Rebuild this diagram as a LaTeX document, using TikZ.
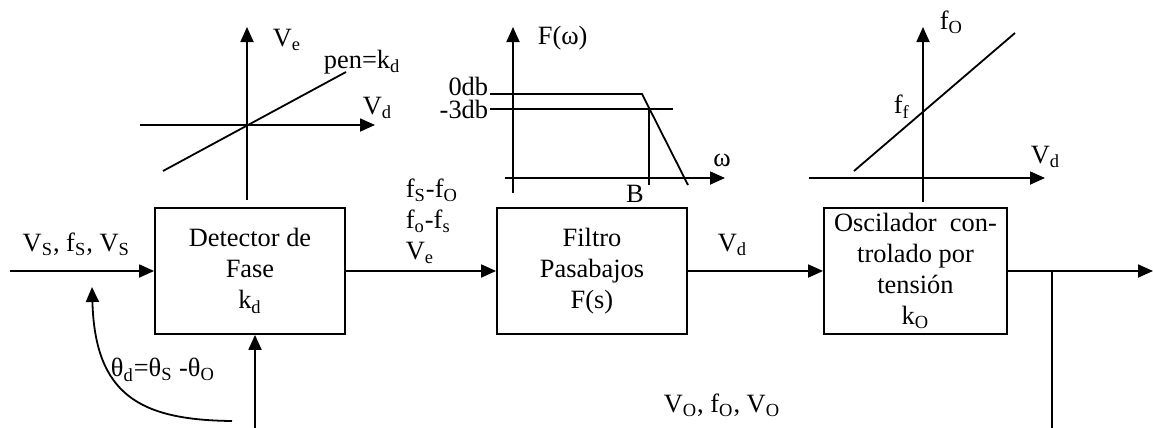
\documentclass[tikz,border=0pt]{standalone}
\usepackage{fontspec}
\setmainfont{Liberation Serif}
\usetikzlibrary{arrows.meta,calc}
\newcommand{\sbs}[1]{\textsubscript{#1}}

\begin{document}
\begin{tikzpicture}[x=0.5pt,y=-0.5pt,line width=0.9pt,
  font=\fontsize{13.2}{15.5}\selectfont,
  blk/.style={draw,minimum height=63pt,align=center,inner sep=1pt},
  ar/.style={-{Triangle[length=7.5pt,width=6.5pt]}},
  lbl/.style={inner sep=1pt}]
\useasboundingbox (0,0) rectangle (1153,428);
% bloques
\node[blk,minimum width=95pt] (det) at (250,271) {Detector de\\Fase\\k\sbs{d}};
\node[blk,minimum width=95pt] (fil) at (592,271) {Filtro\\Pasabajos\\F(s)};
\node[blk,minimum width=91.5pt] (vco) at (915.5,271) {Oscilador\ \ con-\\trolado por\\tensión\\k\sbs{O}};
\coordinate (in) at (10,271);
\coordinate (br) at (1052,271);
\coordinate (out) at (1153,271);
\coordinate (brd) at (1052,428);
\coordinate (dfb) at (255,428);
\coordinate (cs) at (232,421);
\coordinate (ct) at (92,287);
\draw[ar] (in) -- node[lbl,above=6pt,pos=0.46]{V\sbs{S}, f\sbs{S}, V\sbs{S}} (det.west);
\draw[ar] (det.east) -- (fil.west);
\draw[ar] (fil.east) -- node[lbl,above=6pt,pos=0.33]{V\sbs{d}} (vco.west);
\draw (vco.east) -- (br) -- (brd);
\draw[ar] (br) -- (out);
\draw[ar] (dfb) -- (dfb |- det.south);
\draw[ar] (cs) .. controls (140,420) and (95,395) .. (ct);
\node[lbl,anchor=west,align=left] (lfs) at (403,221) {f\sbs{S}-f\sbs{O}\\f\sbs{o}-f\sbs{s}\\V\sbs{e}};
\node[lbl,anchor=west] (lth) at (108,370) {θ\sbs{d}=θ\sbs{S} -θ\sbs{O}};
\node[lbl] (lvo) at (722,405) {V\sbs{O}, f\sbs{O}, V\sbs{O}};
% grafica detector
\coordinate (a1b) at (247,200); \coordinate (a1t) at (247,27);
\coordinate (a1l) at (140,125); \coordinate (a1r) at (375,125);
\coordinate (k1a) at (163,171); \coordinate (k1b) at (346,72);
\draw[ar] (a1b) -- (a1t);
\draw[ar] (a1l) -- (a1r);
\draw (k1a) -- (k1b);
\node[lbl,anchor=west] (lve) at (270,40) {V\sbs{e}};
\node[lbl,anchor=west] (lpen) at (321,62) {pen=k\sbs{d}};
\node[lbl,anchor=west] (lvd1) at (360,108) {V\sbs{d}};
% grafica filtro
\coordinate (a2b) at (513,193); \coordinate (a2t) at (513,27);
\coordinate (a2l) at (505,178); \coordinate (a2r) at (725,178);
\coordinate (f0a) at (490,94); \coordinate (f0b) at (642,94); \coordinate (f0c) at (688,185);
\coordinate (f3a) at (490,109); \coordinate (f3b) at (673,109);
\coordinate (bwt) at (649,109); \coordinate (bwb) at (649,185);
\draw[ar] (a2b) -- (a2t);
\draw[ar] (a2l) -- (a2r);
\draw (f0a) -- (f0b) -- (f0c);
\draw (f3a) -- (f3b);
\draw (bwt) -- (bwb);
\node[lbl,anchor=west] (lfw) at (535,38) {F(ω)};
\node[lbl,anchor=base east,inner sep=0pt] (l0db) at (489,95) {0db};
\node[lbl,anchor=base east,inner sep=0pt] (l3db) at (489,119) {-3db};
\node[lbl] (lw) at (722,160) {ω};
\node[lbl] (lbw) at (635,194) {B};
% grafica VCO
\coordinate (a3b) at (923,202); \coordinate (a3t) at (923,27);
\coordinate (a3l) at (809,178); \coordinate (a3r) at (1045,178);
\coordinate (k3a) at (854,171); \coordinate (k3b) at (1015,33);
\draw[ar] (a3b) -- (a3t);
\draw[ar] (a3l) -- (a3r);
\draw (k3a) -- (k3b);
\node[lbl,anchor=west] (lfo) at (937,22) {f\sbs{O}};
\node[lbl,anchor=west] (lff) at (891,107) {f\sbs{f}};
\node[lbl,anchor=west] (lvd3) at (1028,157) {V\sbs{d}};
\end{tikzpicture}
\end{document}
